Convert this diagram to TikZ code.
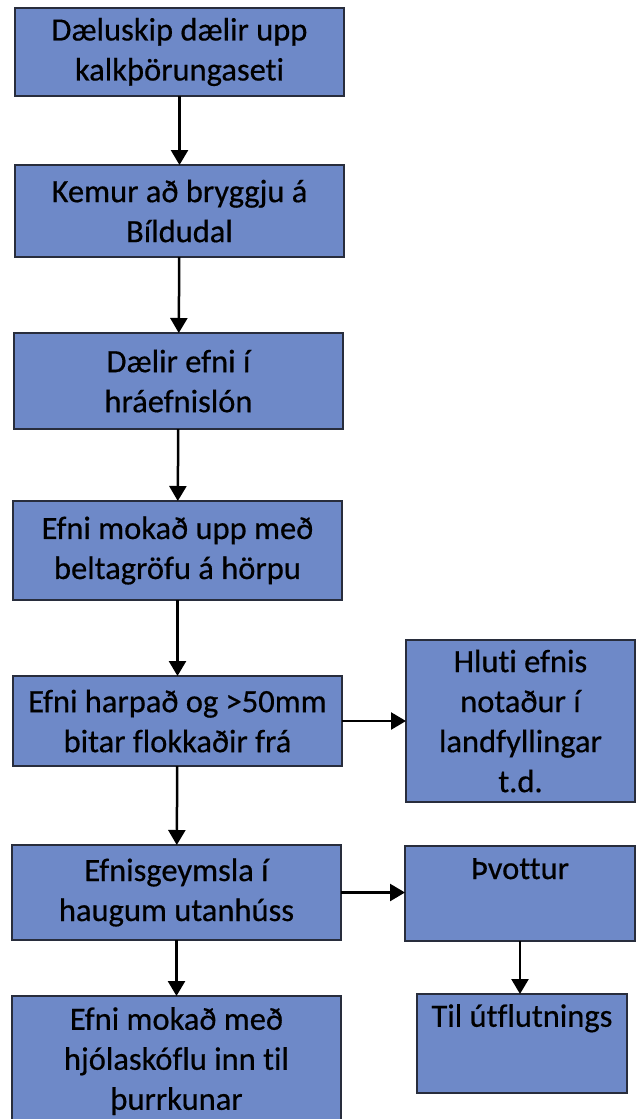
\documentclass[tikz,border=0pt]{standalone}
\usepackage{fontspec}
\setmainfont{Carlito}[Ligatures=NoCommon, UprightFeatures={FakeBold=0.5}]
\usetikzlibrary{arrows.meta}
\definecolor{boxblue}{RGB}{110,137,200}
\definecolor{boxedge}{RGB}{40,45,60}
\tikzset{
  box/.style={draw=boxedge, line width=1.3pt, fill=boxblue, anchor=north west,
    inner sep=2pt, outer sep=0pt, align=center,
    font=\fontsize{32.5}{40}\selectfont, text=black},
  lbl/.style={anchor=north, inner sep=0pt, align=center,
    font=\fontsize{32.5}{40}\selectfont, text=black},
  arr/.style={line width=2.5pt, draw=black,
    -{Triangle[width=17pt,length=15pt]}}
}
\begin{document}
\begin{tikzpicture}[x=1pt,y=-1pt]
\useasboundingbox (0,0) rectangle (636,1119);
\fill[white] (0,0) rectangle (636,1119);
\node[box, minimum width=329pt, minimum height=88pt] (b1) at (15,8)
  {Dæluskip dælir upp\\kalkþörungaseti};
\node[box, minimum width=329pt, minimum height=92pt] (b2) at (15,165)
  {Kemur að bryggju á\\Bíldudal};
\node[box, minimum width=329pt, minimum height=96pt] (b3) at (14,333)
  {Dælir efni í\\hráefnislón};
\node[box, minimum width=329pt, minimum height=99pt] (b4) at (13,501)
  {Efni mokað upp með\\beltagröfu á hörpu};
\node[box, minimum width=329pt, minimum height=90pt] (b5) at (13,676)
  {Efni harpað og >50mm\\bitar flokkaðir frá};
\node[box, minimum width=329pt, minimum height=95pt] (b6) at (12,845)
  {Efnisgeymsla í\\haugum utanhúss};
\node[box, minimum width=329pt, minimum height=140pt] (b7) at (12,996) {};
\node[lbl] (t7) at ([yshift=-11pt]b7.north)
  {Efni mokað með\\hjólaskóflu inn til\\þurrkunar};
\node[box, minimum width=229pt, minimum height=162pt] (r1) at (406,640)
  {Hluti efnis\\notaður í\\landfyllingar\\t.d.};
\node[box, minimum width=230pt, minimum height=95pt] (r2) at (405,846) {};
\node[lbl] (t2) at ([yshift=-12pt]r2.north) {Þvottur};
\node[box, minimum width=210pt, minimum height=99pt] (r3) at (417,994) {};
\node[lbl] (t3) at ([yshift=-10pt]r3.north) {Til útflutnings};
\draw[arr] (b1) -- (b2);
\draw[arr] (b2) -- (b3);
\draw[arr] (b3) -- (b4);
\draw[arr] (b4) -- (b5);
\draw[arr] (b5) -- (b6);
\draw[arr] (b6) -- (b7);
\draw[arr] (b5.east) -- (b5.east -| r1.west);
\draw[arr] (b6.east) -- (b6.east -| r2.west);
\draw[arr] (r2.south) -- (r2.south |- r3.north);
\end{tikzpicture}
\end{document}
